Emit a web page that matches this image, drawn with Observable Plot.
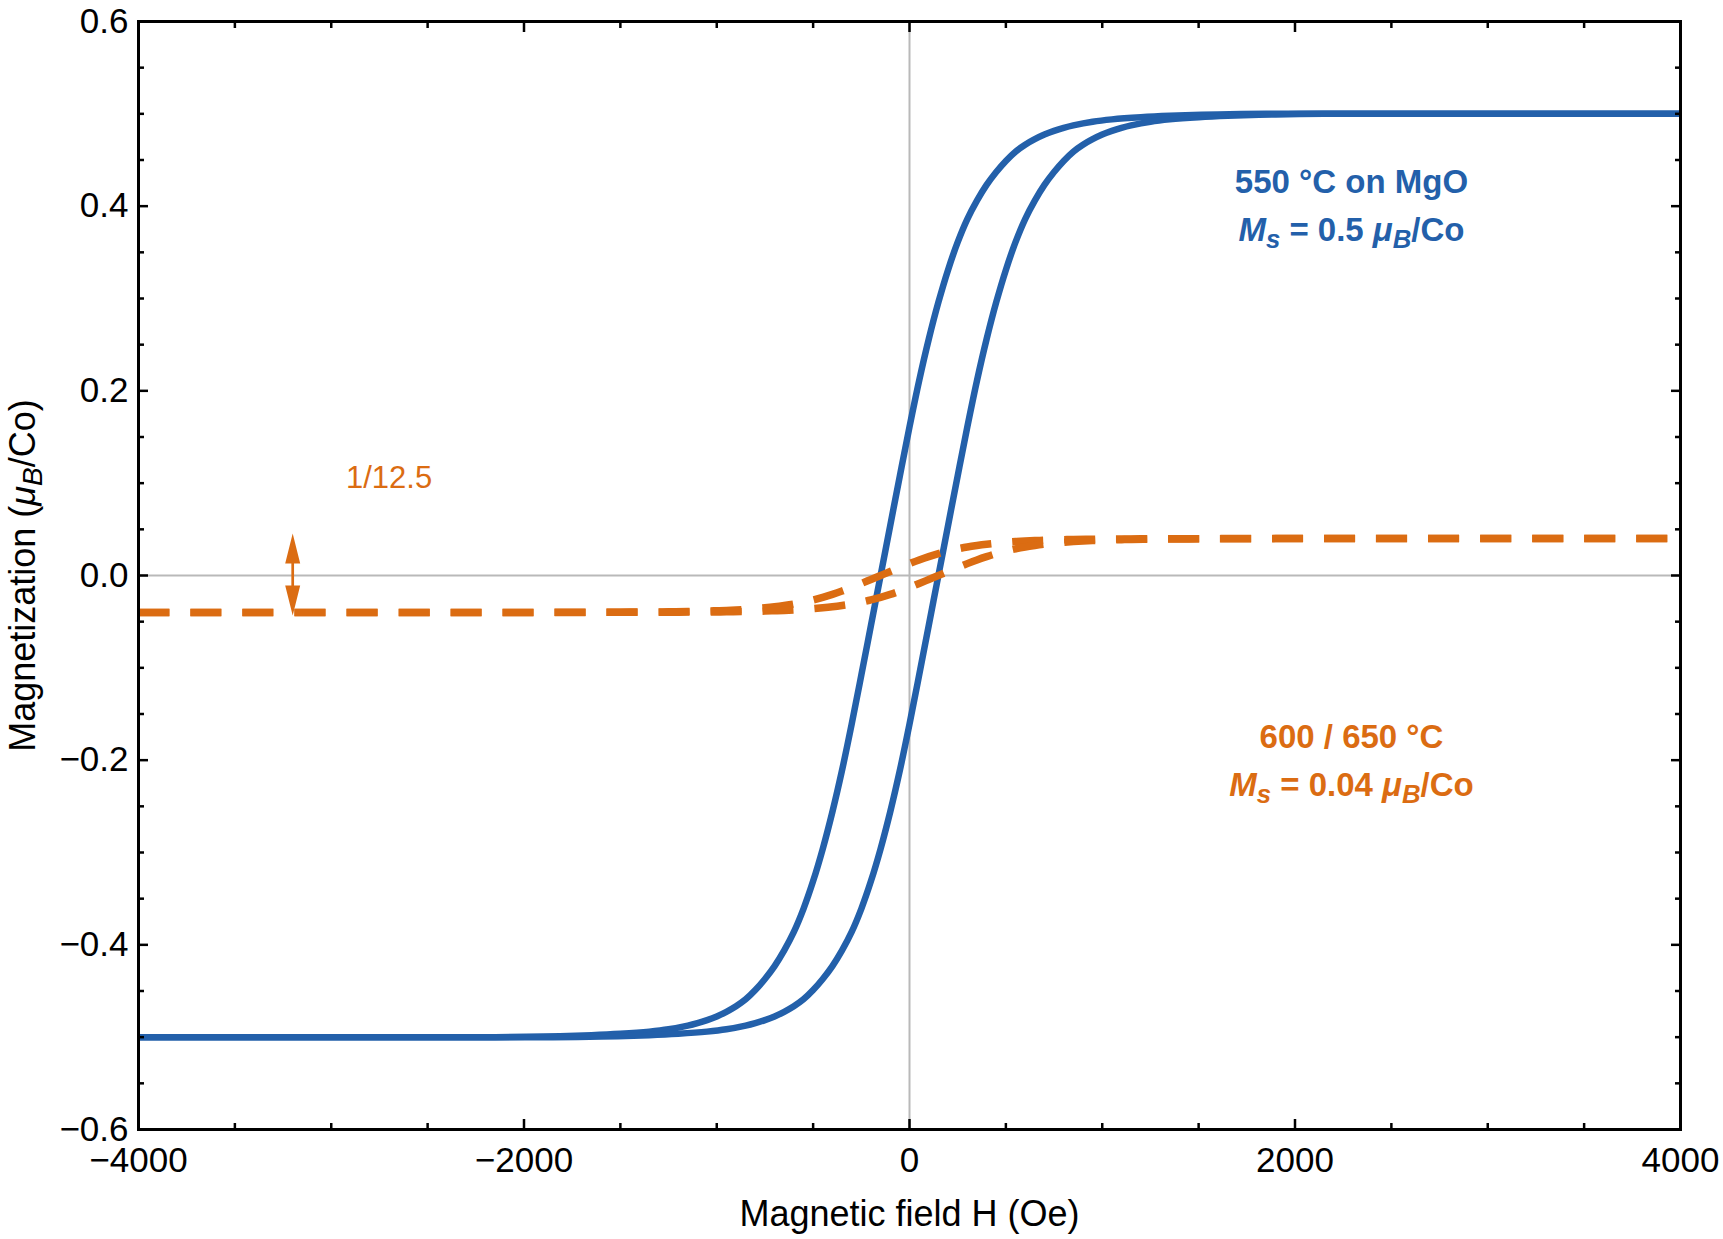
<!DOCTYPE html>
<html>
<head>
<meta charset="utf-8">
<script src="https://cdn.jsdelivr.net/npm/d3@7"></script>
<script src="https://cdn.jsdelivr.net/npm/@observablehq/plot@0.6"></script>
<style>
  html, body { margin: 0; padding: 0; background: #fff; }
</style>
</head>
<body>
<div id="chart"></div>
<script>
// ---- Data ----
// Blue loop (550 °C on MgO): descending-field (upper) branch
const upperH = [-4000, -2150, -1900, -1650, -1500, -1350, -1250, -1150, -1100, -1050, -1000, -950, -900, -850, -800, -750, -700, -650, -600, -550, -500, -450, -400, -350, -300, -250, -200, -150, -100, -50, 0, 50, 100, 150, 200, 250, 300, 350, 400, 450, 500, 550, 600, 650, 700, 750, 800, 850, 950, 1050, 1200, 1350, 1600, 1850, 4000];
const upperM = [-0.5, -0.5, -0.4993, -0.4978, -0.4963, -0.494, -0.4915, -0.4875, -0.4848, -0.4815, -0.4775, -0.4725, -0.4665, -0.459, -0.449, -0.437, -0.423, -0.406, -0.386, -0.361, -0.331, -0.296, -0.256, -0.211, -0.161, -0.108, -0.054, 0, 0.054, 0.108, 0.161, 0.211, 0.256, 0.296, 0.331, 0.361, 0.386, 0.406, 0.423, 0.437, 0.449, 0.459, 0.4665, 0.4725, 0.4775, 0.4815, 0.4848, 0.4875, 0.4915, 0.494, 0.4963, 0.4978, 0.4993, 0.5, 0.5];
// Blue loop: ascending-field (lower) branch
const lowerH = [-4000, -1850, -1600, -1350, -1200, -1050, -950, -850, -800, -750, -700, -650, -600, -550, -500, -450, -400, -350, -300, -250, -200, -150, -100, -50, 0, 50, 100, 150, 200, 250, 300, 350, 400, 450, 500, 550, 600, 650, 700, 750, 800, 850, 900, 950, 1000, 1050, 1100, 1150, 1250, 1350, 1500, 1650, 1900, 2150, 4000];
const lowerM = [-0.5, -0.5, -0.4993, -0.4978, -0.4963, -0.494, -0.4915, -0.4875, -0.4848, -0.4815, -0.4775, -0.4725, -0.4665, -0.459, -0.449, -0.437, -0.423, -0.406, -0.386, -0.361, -0.331, -0.296, -0.256, -0.211, -0.161, -0.108, -0.054, 0, 0.054, 0.108, 0.161, 0.211, 0.256, 0.296, 0.331, 0.361, 0.386, 0.406, 0.423, 0.437, 0.449, 0.459, 0.4665, 0.4725, 0.4775, 0.4815, 0.4848, 0.4875, 0.4915, 0.494, 0.4963, 0.4978, 0.4993, 0.5, 0.5];
// Orange loop (600 / 650 °C), same field points
const orangeUpperM = [-0.04, -0.04, -0.03994, -0.03982, -0.0397, -0.03952, -0.03932, -0.039, -0.03878, -0.03852, -0.0382, -0.0378, -0.03732, -0.03672, -0.03592, -0.03496, -0.03384, -0.03248, -0.03088, -0.02888, -0.02648, -0.02368, -0.02048, -0.01688, -0.01288, -0.00864, -0.00432, 0, 0.00432, 0.00864, 0.01288, 0.01688, 0.02048, 0.02368, 0.02648, 0.02888, 0.03088, 0.03248, 0.03384, 0.03496, 0.03592, 0.03672, 0.03732, 0.0378, 0.0382, 0.03852, 0.03878, 0.039, 0.03932, 0.03952, 0.0397, 0.03982, 0.03994, 0.04, 0.04];
const orangeLowerM = [-0.04, -0.04, -0.03994, -0.03982, -0.0397, -0.03952, -0.03932, -0.039, -0.03878, -0.03852, -0.0382, -0.0378, -0.03732, -0.03672, -0.03592, -0.03496, -0.03384, -0.03248, -0.03088, -0.02888, -0.02648, -0.02368, -0.02048, -0.01688, -0.01288, -0.00864, -0.00432, 0, 0.00432, 0.00864, 0.01288, 0.01688, 0.02048, 0.02368, 0.02648, 0.02888, 0.03088, 0.03248, 0.03384, 0.03496, 0.03592, 0.03672, 0.03732, 0.0378, 0.0382, 0.03852, 0.03878, 0.039, 0.03932, 0.03952, 0.0397, 0.03982, 0.03994, 0.04, 0.04];

// Ticks
const xMajor = [-4000, -2000, 0, 2000, 4000];
const xMinor = [-3500, -3000, -2500, -1500, -1000, -500, 500, 1000, 1500, 2500, 3000, 3500];
const yMajor = [-0.6, -0.4, -0.2, 0, 0.2, 0.4, 0.6];
const yMinor = [-0.55, -0.5, -0.45, -0.35, -0.3, -0.25, -0.15, -0.1, -0.05, 0.05, 0.1, 0.15, 0.25, 0.3, 0.35, 0.45, 0.5, 0.55];

// Annotations (data coordinates)
const blueNotes = [
  {H: 2293, M: 0.4255, label: "550 °C on MgO"},
  {H: 2293, M: 0.3737, label: "Ms = 0.5 μB/Co"}
];
const orangeNotes = [
  {H: 2293, M: -0.1755, label: "600 / 650 °C"},
  {H: 2293, M: -0.2275, label: "Ms = 0.04 μB/Co"}
];
const ratioNote = [{H: -2700, M: 0.106, label: "1/12.5"}];
const arrowH = [-3200];
const arrowTips = [{H: -3200, M: 0.0455, dir: "up"}, {H: -3200, M: -0.0433, dir: "down"}];

// ---- Build tables ----
const blueRows = [
  ...upperH.map((h, i) => ({H: h, M: upperM[i], branch: "up"})),
  ...lowerH.map((h, i) => ({H: h, M: lowerM[i], branch: "down"}))
];
const orangeRows = [
  ...upperH.map((h, i) => ({H: h, M: orangeUpperM[i], branch: "up"})),
  ...lowerH.map((h, i) => ({H: h, M: orangeLowerM[i], branch: "down"}))
];

const blue = "#2360AA";
const orange = "#DB6C12";

const headUp = {draw(ctx) { ctx.moveTo(0, 0); ctx.lineTo(7.5, 30); ctx.lineTo(-7.5, 30); ctx.closePath(); }};
const headDown = {draw(ctx) { ctx.moveTo(0, 0); ctx.lineTo(7.5, -30); ctx.lineTo(-7.5, -30); ctx.closePath(); }};

const tickStyle = {label: null, text: null, strokeWidth: 2.5};

const plot = Plot.plot({
  width: 1723,
  height: 1239,
  marginLeft: 138,
  marginRight: 43,
  marginTop: 21,
  marginBottom: 110,
  style: {fontFamily: "'Liberation Sans', Arial, Helvetica, sans-serif", fontSize: "35px", color: "#000", background: "#fff"},
  x: {domain: [-4000, 4000]},
  y: {domain: [-0.6, 0.6]},
  marks: [
    Plot.ruleX([0], {stroke: "#b9b9b9", strokeWidth: 2}),
    Plot.ruleY([0], {stroke: "#b9b9b9", strokeWidth: 2}),
    Plot.line(blueRows, {x: "H", y: "M", z: "branch", stroke: blue, strokeWidth: 6.5, strokeLinecap: "butt", curve: "catmull-rom"}),
    Plot.line(orangeRows, {x: "H", y: "M", z: "branch", stroke: orange, strokeWidth: 7.5, strokeDasharray: "31 21", strokeLinecap: "butt", curve: "catmull-rom"}),
    Plot.ruleX(arrowH, {x: d => d, y1: -0.03, y2: 0.03, stroke: orange, strokeWidth: 2.7}),
    Plot.dot(arrowTips.filter(d => d.dir === "up"), {x: "H", y: "M", symbol: headUp, fill: orange, stroke: "none"}),
    Plot.dot(arrowTips.filter(d => d.dir === "down"), {x: "H", y: "M", symbol: headDown, fill: orange, stroke: "none"}),
    Plot.text(blueNotes, {x: "H", y: "M", text: "label", fill: blue, fontWeight: "bold", fontSize: 33}),
    Plot.text(orangeNotes, {x: "H", y: "M", text: "label", fill: orange, fontWeight: "bold", fontSize: 33}),
    Plot.text(ratioNote, {x: "H", y: "M", text: "label", fill: orange, fontSize: 31}),
    Plot.frame({stroke: "#000", strokeWidth: 3}),
    // inward ticks on all four sides
    Plot.axisX({anchor: "bottom", ticks: xMajor, tickSize: -10, ...tickStyle}),
    Plot.axisX({anchor: "top", ticks: xMajor, tickSize: -10, ...tickStyle}),
    Plot.axisX({anchor: "bottom", ticks: xMinor, tickSize: -6, ...tickStyle}),
    Plot.axisX({anchor: "top", ticks: xMinor, tickSize: -6, ...tickStyle}),
    Plot.axisY({anchor: "left", ticks: yMajor, tickSize: -10, ...tickStyle}),
    Plot.axisY({anchor: "right", ticks: yMajor, tickSize: -10, ...tickStyle}),
    Plot.axisY({anchor: "left", ticks: yMinor, tickSize: -6, ...tickStyle}),
    Plot.axisY({anchor: "right", ticks: yMinor, tickSize: -6, ...tickStyle}),
    // tick labels
    Plot.axisX({anchor: "bottom", ticks: xMajor, tickSize: 0, tickPadding: 18, label: null, tickFormat: d3.format("d"), fontSize: 35}),
    Plot.axisY({anchor: "left", ticks: yMajor, tickSize: 0, tickPadding: 10, label: null, tickFormat: d3.format(".1f"), fontSize: 35}),
    // axis titles
    Plot.text(["Magnetic field H (Oe)"], {text: d => d, frameAnchor: "bottom", textAnchor: "middle", lineAnchor: "middle", dy: 85, fontSize: 36}),
    Plot.text(["Magnetization (μB/Co)"], {text: d => d, frameAnchor: "left", textAnchor: "middle", lineAnchor: "middle", rotate: -90, dx: -115, fontSize: 36})
  ]
});

// Rich text: italic symbols with subscripts
const rich = {
  "Ms = 0.5 μB/Co": [["M", "i"], ["s", "s"], [" = 0.5 ", ""], ["μ", "i"], ["B", "s"], ["/Co", ""]],
  "Ms = 0.04 μB/Co": [["M", "i"], ["s", "s"], [" = 0.04 ", ""], ["μ", "i"], ["B", "s"], ["/Co", ""]],
  "Magnetization (μB/Co)": [["Magnetization (", ""], ["μ", "i"], ["B", "s"], ["/Co)", ""]]
};
plot.querySelectorAll("text").forEach(el => {
  const spec = rich[el.textContent];
  if (!spec) return;
  while (el.firstChild) el.removeChild(el.firstChild);
  let shifted = false;
  for (const [t, st] of spec) {
    const ts = document.createElementNS("http://www.w3.org/2000/svg", "tspan");
    ts.textContent = t;
    if (st) ts.setAttribute("font-style", "italic");
    if (st === "s") {
      ts.setAttribute("font-size", "0.78em");
      ts.setAttribute("dy", "7");
      shifted = true;
    } else if (shifted) {
      ts.setAttribute("dy", "-7");
      shifted = false;
    }
    el.appendChild(ts);
  }
});

document.getElementById("chart").appendChild(plot);
</script>
</body>
</html>
